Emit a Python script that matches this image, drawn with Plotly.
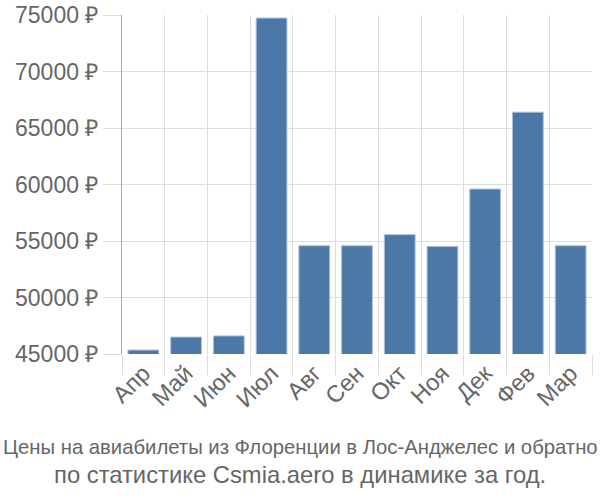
import plotly.graph_objects as go

months = ["Апр", "Май", "Июн", "Июл", "Авг", "Сен", "Окт", "Ноя", "Дек", "Фев", "Мар"]
prices = [45350, 46500, 46600, 74730, 54580, 54580, 55560, 54520, 59600, 66400, 54580]
y_ticks = [45000, 50000, 55000, 60000, 65000, 70000, 75000]
y_tick_labels = [f"{v} ₽" for v in y_ticks]
title_lines = ["Цены на авиабилеты из Флоренции в Лос-Анджелес и обратно",
               "по статистике Csmia.aero в динамике за год."]

fig = go.Figure(go.Bar(
    x=months, y=prices,
    marker=dict(color="#4c78a8", line=dict(color="#a9c0dc", width=1)),
))

fig.update_layout(
    width=600, height=500,
    margin=dict(l=122, r=8, t=15, b=146),
    plot_bgcolor="white", paper_bgcolor="white",
    bargap=0.28,
    showlegend=False,
    font=dict(family="Liberation Sans, Arial, sans-serif", color="#666666"),
    annotations=[
        dict(text=title_lines[0], x=0.5, xref="paper", xanchor="center",
             y=-0.274, yref="paper", yanchor="middle", showarrow=False,
             font=dict(size=20.3, color="#666666"), xshift=-57),
        dict(text=title_lines[1], x=0.5, xref="paper", xanchor="center",
             y=-0.354, yref="paper", yanchor="middle", showarrow=False,
             font=dict(size=23.8, color="#666666"), xshift=-57),
    ],
)

fig.update_xaxes(
    tickangle=-45, tickfont=dict(size=23.5, color="#666666"),
    showgrid=True, gridcolor="#dddddd", gridwidth=1,
    tickson="boundaries", ticks="outside", ticklen=20, tickcolor="#dddddd",
    showline=False, automargin=False,
)
fig.update_yaxes(
    range=[45000, 75000], tickvals=y_ticks, ticktext=y_tick_labels,
    tickfont=dict(size=23, color="#666666"),
    showgrid=True, gridcolor="#dddddd", gridwidth=1,
    ticks="outside", ticklen=18, tickcolor="#dddddd",
    showline=True, linecolor="#aaaaaa", linewidth=1,
    zeroline=False, automargin=False,
)

fig.write_html("out.html")
